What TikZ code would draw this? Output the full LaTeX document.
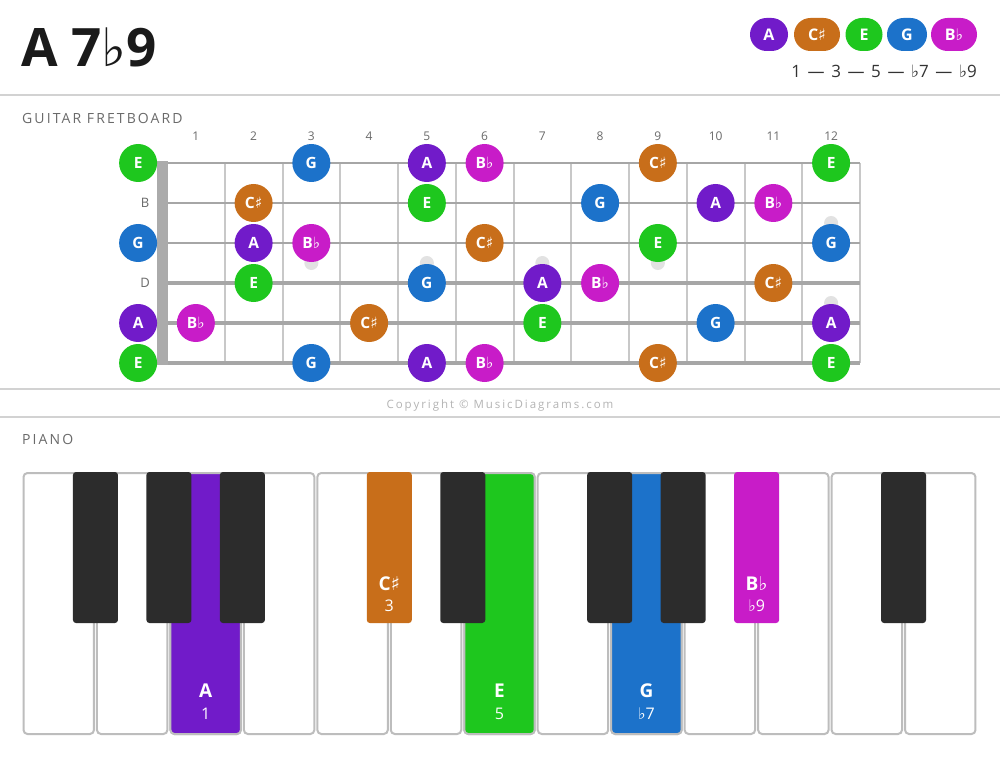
\documentclass[tikz,border=0pt]{standalone}
\usepackage{fontspec}
\setmainfont{Open Sans}
\newfontfamily\symf{DejaVu Sans}
\newcommand{\fl}{{\symf ♭}}
\newcommand{\shp}{{\symf ♯}}
\newcommand{\dsh}{\hspace{6.6pt}—\hspace{6.6pt}}
\definecolor{cA}{HTML}{711BC9}
\definecolor{cCs}{HTML}{C86E1A}
\definecolor{cE}{HTML}{1EC71E}
\definecolor{cG}{HTML}{1C72CA}
\definecolor{cBb}{HTML}{C81CC8}
\definecolor{ink}{HTML}{1A1A1A}
\definecolor{ink2}{HTML}{333333}
\definecolor{sepc}{HTML}{D2D2D2}
\definecolor{labc}{HTML}{6A6A6A}
\definecolor{fretc}{HTML}{C8C8C8}
\definecolor{strc}{HTML}{A6A6A6}
\definecolor{nutc}{HTML}{ABABAB}
\definecolor{dotc}{HTML}{E2E2E2}
\definecolor{keyb}{HTML}{BDBDBD}
\definecolor{blk}{HTML}{2C2C2C}
\definecolor{copyc}{HTML}{B4B4B4}
\tikzset{
  sepline/.style={draw=sepc, line width=2pt},
  note/.style={circle, minimum size=38pt, inner sep=0pt, text=white, font=\fontsize{15.5}{17}\selectfont\bfseries},
  pill/.style={rounded corners=16.5pt, minimum height=33pt, inner sep=0pt, text=white, font=\fontsize{16}{18}\selectfont\bfseries},
  seclab/.style={anchor=west, inner sep=0pt, text=labc, font=\fontsize{14}{16}\selectfont},
  fretnum/.style={inner sep=0pt, text=labc, font=\fontsize{12}{14}\selectfont},
  openlab/.style={inner sep=0pt, text=labc, font=\fontsize{13}{15}\selectfont},
  wkey/.style={draw=keyb, line width=2pt, rounded corners=4pt},
  bkey/.style={rounded corners=3pt},
  kname/.style={inner sep=0pt, text=white, font=\fontsize{19}{21}\selectfont\bfseries},
  kdeg/.style={inner sep=0pt, text=white, font=\fontsize{16}{18}\selectfont},
}
\begin{document}
\begin{tikzpicture}[x=1pt,y=-1pt]
\useasboundingbox[fill=white] (0,0) rectangle (1000,759);
% separators
\draw[sepline] (0,95.5) -- (1000,95.5);
\draw[sepline] (0,388.5) -- (1000,388.5);
\draw[sepline] (0,416.5) -- (1000,416.5);
% title
\node[anchor=base west, inner sep=0pt, text=ink, font=\fontsize{53}{60}\selectfont\bfseries] (title) at (21,67) {A 7\fl9};
% legend
\foreach \n/\x/\w/\c/\t in {lA/769/38/cA/A, lC/817/46/cCs/C\shp, lE/864/37/cE/E, lG/907/40/cG/G, lB/954/46/cBb/B\fl}
  \node[pill, fill=\c, minimum width=\w pt] (\n) at (\x,34.5) {\t};
\node[anchor=east, inner sep=0pt, text=ink2, font=\fontsize{17}{19}\selectfont] (iv) at (977,71) {1\dsh3\dsh5\dsh\fl7\dsh\fl9};
% section labels
\node[seclab] (gf) at (22,118) {\addfontfeature{LetterSpace=15}GUITAR FRETBOARD};
\node[seclab] (pl) at (22,439) {\addfontfeature{LetterSpace=15}PIANO};
\node[inner sep=0pt, text=copyc, font=\fontsize{11.5}{13}\selectfont] (copy) at (500,406) {\addfontfeature{LetterSpace=17}Copyright © MusicDiagrams.com};
% frets
\foreach \k in {1,...,12}
  \draw[draw=fretc, line width=2pt] ({167+57.75*\k},163) -- ({167+57.75*\k},363);
\foreach \k in {1,...,12}
  \node[fretnum] (fn\k) at ({138.1+57.75*\k},136) {\k};
% inlay dots
\foreach \f/\y in {3/263, 5/263, 7/263, 9/263, 12/223, 12/303}
  \fill[dotc] ({138.1+57.75*\f},\y) circle (7pt);
% strings
\foreach \s/\w in {1/2.2, 2/2.5, 3/2.8, 4/3.1, 5/3.5, 6/4}
  \draw[draw=strc, line width=\w pt] (160,{123+40*\s}) -- (860,{123+40*\s});
% nut
\fill[nutc] (157,161) rectangle (168,365);
% open string labels
\node[openlab] (ob) at (145,203) {B};
\node[openlab] (od) at (145,283) {D};
% notes
\foreach \s/\f/\c/\t in {
  1/0/cE/E, 1/3/cG/G, 1/5/cA/A, 1/6/cBb/B\fl, 1/9/cCs/C\shp, 1/12/cE/E,
  2/2/cCs/C\shp, 2/5/cE/E, 2/8/cG/G, 2/10/cA/A, 2/11/cBb/B\fl,
  3/0/cG/G, 3/2/cA/A, 3/3/cBb/B\fl, 3/6/cCs/C\shp, 3/9/cE/E, 3/12/cG/G,
  4/2/cE/E, 4/5/cG/G, 4/7/cA/A, 4/8/cBb/B\fl, 4/11/cCs/C\shp,
  5/0/cA/A, 5/1/cBb/B\fl, 5/4/cCs/C\shp, 5/7/cE/E, 5/10/cG/G, 5/12/cA/A,
  6/0/cE/E, 6/3/cG/G, 6/5/cA/A, 6/6/cBb/B\fl, 6/9/cCs/C\shp, 6/12/cE/E}
  \node[note, fill=\c] (n-\s-\f) at ({138.1+57.75*\f},{123+40*\s}) {\t};
% piano white keys
\foreach \i in {0,...,12}
  \draw[wkey, fill=white] ({22+73.46*\i+1.5},473) rectangle ({22+73.46*(\i+1)-1.5},734);
\foreach \i/\c in {2/cA, 6/cE, 8/cG}
  \draw[wkey, fill=\c] ({22+73.46*\i+1.5},473) rectangle ({22+73.46*(\i+1)-1.5},734);
% black keys
\foreach \i/\c in {1/blk, 2/blk, 3/blk, 5/cCs, 6/blk, 8/blk, 9/blk, 10/cBb, 12/blk}
  \fill[bkey, fill=\c] ({22+73.46*\i-22.5},472) rectangle ({22+73.46*\i+22.5},623);
% key labels
\node[kname] (kA) at ({22+73.46*2.5},691) {A};
\node[kdeg] (kA1) at ({22+73.46*2.5},714) {1};
\node[kname] (kE) at ({22+73.46*6.5},691) {E};
\node[kdeg] (kE1) at ({22+73.46*6.5},714) {5};
\node[kname] (kG) at ({22+73.46*8.5},691) {G};
\node[kdeg] (kG1) at ({22+73.46*8.5},714) {\fl7};
\node[kname] (kC) at ({22+73.46*5},584) {C\shp};
\node[kdeg] (kC1) at ({22+73.46*5},606) {3};
\node[kname] (kB) at ({22+73.46*10},584) {B\fl};
\node[kdeg] (kB1) at ({22+73.46*10},606) {\fl9};
\end{tikzpicture}
\end{document}
